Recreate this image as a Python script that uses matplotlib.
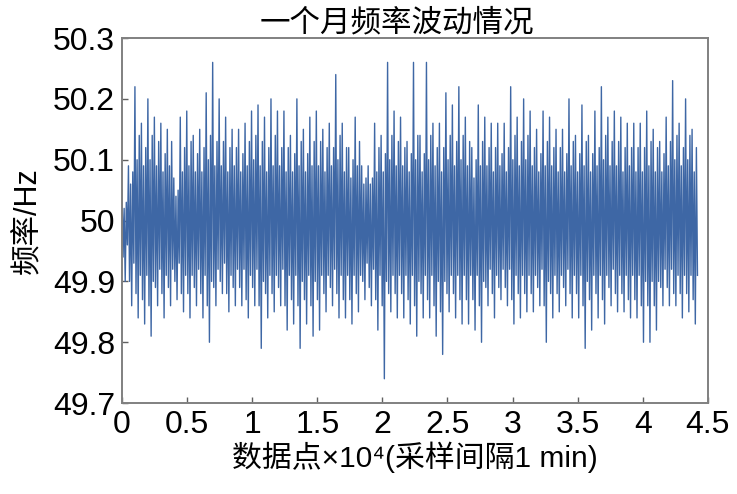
import matplotlib
matplotlib.use('Agg')
import matplotlib.pyplot as plt
import numpy as np

# keep every sample of the dense trace
plt.rcParams['path.simplify'] = False

# values, one column per 0.05 x 10^4 samples
# hi/lo = outer spikes, mid_* = edge of the hatched band, in_* = edge of the solid core
hi = [50.05, 50.09, 50.22, 50.16, 50.20, 50.17, 50.16, 50.15, 50.07, 50.17, 50.18, 50.14, 50.15, 50.21, 50.26,
      50.20, 50.17, 50.15, 50.15, 50.16, 50.18, 50.19, 50.17, 50.20, 50.18, 50.18, 50.14, 50.20, 50.15, 50.17,
      50.18, 50.15, 50.16, 50.24, 50.16, 50.12, 50.17, 50.09, 50.09, 50.16, 50.14, 50.26, 50.18, 50.17, 50.13,
      50.26, 50.14, 50.26, 50.16, 50.16, 50.21, 50.19, 50.22, 50.17, 50.12, 50.19, 50.17, 50.16, 50.16, 50.16,
      50.22, 50.17, 50.20, 50.18, 50.15, 50.18, 50.17, 50.15, 50.15, 50.20, 50.14, 50.19, 50.14, 50.18, 50.22,
      50.17, 50.18, 50.17, 50.16, 50.16, 50.16, 50.18, 50.15, 50.13, 50.17, 50.23, 50.16, 50.20, 50.15]
lo = [49.90, 49.86, 49.84, 49.83, 49.81, 49.86, 49.84, 49.86, 49.87, 49.85, 49.84, 49.86, 49.84, 49.80, 49.86,
      49.88, 49.85, 49.86, 49.86, 49.84, 49.86, 49.79, 49.84, 49.85, 49.86, 49.82, 49.83, 49.79, 49.83, 49.81,
      49.82, 49.85, 49.86, 49.84, 49.84, 49.83, 49.85, 49.87, 49.86, 49.82, 49.74, 49.85, 49.84, 49.84, 49.83,
      49.81, 49.84, 49.84, 49.81, 49.78, 49.85, 49.84, 49.83, 49.83, 49.82, 49.80, 49.86, 49.84, 49.87, 49.86,
      49.83, 49.84, 49.85, 49.85, 49.86, 49.80, 49.84, 49.85, 49.86, 49.84, 49.84, 49.79, 49.82, 49.84, 49.83,
      49.86, 49.85, 49.85, 49.84, 49.84, 49.80, 49.80, 49.82, 49.86, 49.86, 49.86, 49.84, 49.85, 49.83]
mid_hi = [50.03, 50.08, 50.14, 50.12, 50.14, 50.13, 50.11, 50.13, 50.05, 50.12,
          50.13, 50.11, 50.12, 50.14, 50.13, 50.13, 50.12, 50.12, 50.11, 50.13,
          50.14, 50.13, 50.12, 50.14, 50.12, 50.12, 50.11, 50.13, 50.11, 50.13,
          50.13, 50.12, 50.12, 50.14, 50.12, 50.10, 50.13, 50.07, 50.07, 50.12,
          50.11, 50.14, 50.13, 50.12, 50.11, 50.14, 50.11, 50.14, 50.12, 50.12,
          50.14, 50.13, 50.14, 50.13, 50.10, 50.13, 50.12, 50.12, 50.11, 50.12,
          50.14, 50.13, 50.14, 50.12, 50.11, 50.13, 50.12, 50.12, 50.11, 50.13,
          50.11, 50.13, 50.11, 50.12, 50.14, 50.13, 50.13, 50.12, 50.12, 50.12,
          50.12, 50.13, 50.12, 50.11, 50.13, 50.14, 50.12, 50.14, 50.12]
mid_lo = [49.94, 49.90, 49.88, 49.87, 49.86, 49.89, 49.88, 49.89, 49.90, 49.88,
          49.88, 49.89, 49.88, 49.86, 49.89, 49.90, 49.88, 49.89, 49.89, 49.87,
          49.89, 49.86, 49.88, 49.88, 49.89, 49.86, 49.87, 49.86, 49.87, 49.86,
          49.87, 49.88, 49.89, 49.88, 49.87, 49.87, 49.88, 49.90, 49.89, 49.87,
          49.86, 49.88, 49.88, 49.88, 49.87, 49.86, 49.88, 49.87, 49.86, 49.85,
          49.88, 49.88, 49.87, 49.87, 49.87, 49.86, 49.89, 49.88, 49.89, 49.89,
          49.87, 49.88, 49.88, 49.88, 49.89, 49.86, 49.88, 49.88, 49.89, 49.88,
          49.88, 49.86, 49.87, 49.88, 49.87, 49.89, 49.88, 49.88, 49.87, 49.87,
          49.86, 49.86, 49.86, 49.89, 49.89, 49.88, 49.88, 49.88, 49.87]
in_hi = [50.02, 50.06, 50.10, 50.09, 50.10, 50.09, 50.08, 50.09, 50.04, 50.08,
         50.09, 50.08, 50.08, 50.10, 50.09, 50.09, 50.08, 50.09, 50.08, 50.09,
         50.10, 50.09, 50.08, 50.09, 50.09, 50.08, 50.08, 50.09, 50.08, 50.09,
         50.09, 50.08, 50.09, 50.10, 50.08, 50.07, 50.09, 50.06, 50.06, 50.08,
         50.08, 50.10, 50.09, 50.09, 50.08, 50.10, 50.08, 50.10, 50.09, 50.08,
         50.10, 50.09, 50.10, 50.09, 50.07, 50.09, 50.09, 50.08, 50.09, 50.08,
         50.10, 50.09, 50.10, 50.09, 50.08, 50.09, 50.09, 50.08, 50.08, 50.09,
         50.08, 50.09, 50.08, 50.09, 50.10, 50.09, 50.09, 50.08, 50.09, 50.08,
         50.08, 50.09, 50.08, 50.08, 50.09, 50.10, 50.09, 50.10, 50.08]
in_lo = [49.96, 49.93, 49.91, 49.91, 49.90, 49.92, 49.91, 49.92, 49.93, 49.91,
         49.91, 49.92, 49.91, 49.90, 49.92, 49.93, 49.91, 49.92, 49.92, 49.91,
         49.92, 49.90, 49.91, 49.91, 49.92, 49.91, 49.91, 49.90, 49.91, 49.90,
         49.91, 49.91, 49.92, 49.91, 49.91, 49.91, 49.91, 49.93, 49.92, 49.91,
         49.90, 49.91, 49.91, 49.91, 49.91, 49.90, 49.91, 49.91, 49.90, 49.90,
         49.91, 49.91, 49.91, 49.91, 49.91, 49.90, 49.92, 49.91, 49.92, 49.92,
         49.91, 49.91, 49.91, 49.91, 49.92, 49.90, 49.91, 49.91, 49.92, 49.91,
         49.91, 49.90, 49.91, 49.91, 49.91, 49.92, 49.91, 49.91, 49.91, 49.91,
         49.90, 49.90, 49.90, 49.92, 49.92, 49.91, 49.91, 49.91, 49.91]

x_end = 4.42  # last sample, in 10^4
yticks = [49.7, 49.8, 49.9, 50, 50.1, 50.2, 50.3]
ytick_labels = ['49.7', '49.8', '49.9', '50', '50.1', '50.2', '50.3']
xticks = [0, 0.5, 1, 1.5, 2, 2.5, 3, 3.5, 4, 4.5]
xtick_labels = ['0', '0.5', '1', '1.5', '2', '2.5', '3', '3.5', '4', '4.5']

# interleave the levels of each column into one trace
freq = []
for cols in zip(hi, mid_lo, in_hi, lo, mid_hi, in_lo):
  freq += list(cols)
freq = np.array(freq)
idx = np.linspace(0, x_end, len(freq))

cjk = ['Noto Sans CJK SC', 'DejaVu Sans']
num = ['Liberation Sans', 'DejaVu Sans']
mixed = ['Liberation Sans', 'Noto Sans CJK SC', 'DejaVu Sans']

fig = plt.figure(figsize=(7.37, 4.94), dpi=100)
ax = fig.add_axes([0.1655, 0.184, 0.795, 0.739])

ax.plot(idx, freq, color='#3e67a5', lw=1.0)

ax.set_xlim(0, 4.5)
ax.set_ylim(49.7, 50.3)
ax.set_xticks(xticks)
ax.set_xticklabels(xtick_labels, family=num, fontsize=23)
ax.set_yticks(yticks)
ax.set_yticklabels(ytick_labels, family=num, fontsize=23)
ax.tick_params(direction='in', length=4, width=1, color='#606060', pad=5)

for s in ax.spines.values():
  s.set_color('#808080')
  s.set_linewidth(1.4)

ax.set_title('一个月频率波动情况', family=cjk, fontsize=22, fontweight='light', pad=2, x=0.47)
ax.set_ylabel('频率/Hz', family=mixed, fontsize=22, labelpad=7)
ax.set_xlabel('数据点×10⁴(采样间隔1 min)', family=mixed, fontsize=21.5, labelpad=1)

plt.savefig('out.png', dpi=100)
plt.close(fig)
